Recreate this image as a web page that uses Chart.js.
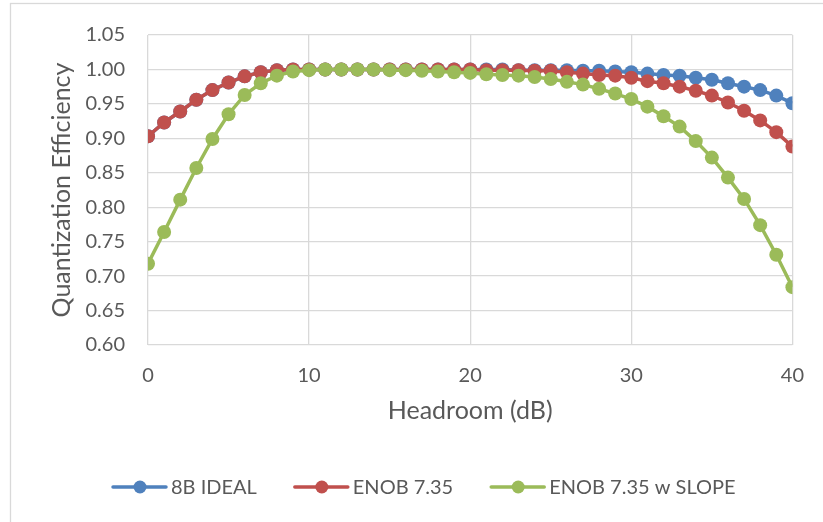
<!DOCTYPE html>
<html>
<head>
<meta charset="utf-8">
<script src="https://cdn.jsdelivr.net/npm/chart.js@4.4.1/dist/chart.umd.min.js"></script>
<style>
  html, body { margin: 0; padding: 0; background: #ffffff; }
  #wrap { position: relative; width: 823px; height: 522px; }
</style>
</head>
<body>
<div id="wrap"><canvas id="c" width="823" height="522"></canvas></div>
<script>
// ---- data ----
const headroom = [0,1,2,3,4,5,6,7,8,9,10,11,12,13,14,15,16,17,18,19,20,21,22,23,24,25,26,27,28,29,30,31,32,33,34,35,36,37,38,39,40];
const ideal8B = [0.903,0.923,0.939,0.956,0.970,0.981,0.990,0.996,0.999,1.000,1.000,1.000,1.000,1.000,1.000,1.000,1.000,1.000,1.000,1.000,1.000,1.000,1.000,0.999,0.999,0.999,0.999,0.998,0.998,0.997,0.996,0.994,0.992,0.991,0.988,0.985,0.980,0.975,0.970,0.962,0.951];
const enob735 = [0.903,0.923,0.939,0.956,0.970,0.981,0.990,0.996,0.999,1.000,1.000,1.000,1.000,1.000,1.000,1.000,1.000,1.000,1.000,1.000,1.000,0.999,0.999,0.999,0.998,0.998,0.996,0.994,0.992,0.991,0.988,0.983,0.980,0.975,0.969,0.962,0.952,0.940,0.926,0.909,0.888];
const enob735Slope = [0.718,0.764,0.811,0.857,0.899,0.935,0.963,0.980,0.991,0.997,0.999,1.000,1.000,1.000,1.000,0.999,0.999,0.998,0.997,0.996,0.995,0.993,0.992,0.991,0.989,0.986,0.982,0.978,0.972,0.965,0.957,0.946,0.932,0.917,0.896,0.872,0.843,0.812,0.774,0.731,0.684];
const seriesNames = ['8B IDEAL', 'ENOB 7.35', 'ENOB 7.35 w SLOPE'];
const yTickValues = [0.60,0.65,0.70,0.75,0.80,0.85,0.90,0.95,1.00,1.05];
const xTickValues = [0,10,20,30,40];
const xTitle = 'Headroom (dB)';
const yTitle = 'Quantization Efficiency';

// ---- styles ----
const colors = ['#4F81BD', '#C0504D', '#9BBB59'];
const textColor = '#595959';
const gridColor = '#d9d9d9';
const FONT = 'Lato, "Open Sans", sans-serif';

function toPoints(vals) { return vals.map((v, i) => ({ x: headroom[i], y: v })); }
const seriesVals = [ideal8B, enob735, enob735Slope];

const datasets = seriesVals.map((vals, i) => ({
  label: seriesNames[i],
  data: toPoints(vals),
  borderColor: colors[i],
  backgroundColor: colors[i],
  pointBackgroundColor: colors[i],
  pointBorderColor: colors[i],
  pointRadius: 7,
  pointHoverRadius: 7,
  pointBorderWidth: 0,
  borderWidth: 3.5,
  tension: 0,
  order: 3 - i
}));

const frameAndLegend = {
  id: 'frameAndLegend',
  beforeDraw(chart) {
    const ctx = chart.ctx;
    ctx.save();
    ctx.fillStyle = '#ffffff';
    ctx.fillRect(0, 0, chart.width, chart.height);
    ctx.strokeStyle = '#d9d9d9';
    ctx.lineWidth = 1.3;
    ctx.strokeRect(10.5, 3.5, 1000, 1000);
    ctx.restore();
  },
  afterDraw(chart) {
    const ctx = chart.ctx;
    ctx.save();
    ctx.font = '20px ' + FONT;
    ctx.textBaseline = 'middle';
    const y = 487;
    let x = 112;
    chart.data.datasets.forEach((ds, i) => {
      ctx.strokeStyle = ds.borderColor;
      ctx.lineWidth = 3.5;
      ctx.lineCap = 'round';
      ctx.beginPath();
      ctx.moveTo(x + 1, y);
      ctx.lineTo(x + 54, y);
      ctx.stroke();
      ctx.fillStyle = ds.borderColor;
      ctx.beginPath();
      ctx.arc(x + 28, y, 6.5, 0, Math.PI * 2);
      ctx.fill();
      ctx.fillStyle = textColor;
      ctx.textAlign = 'left';
      ctx.fillText(ds.label, x + 59, y + 1);
      x += 59 + ctx.measureText(ds.label).width + 37;
    });
    ctx.restore();
  }
};

new Chart(document.getElementById('c'), {
  type: 'line',
  data: { datasets },
  options: {
    responsive: false,
    animation: false,
    events: [],
    layout: { padding: { left: 0, top: 32, right: 28, bottom: 96 } },
    plugins: {
      legend: { display: false },
      tooltip: { enabled: false },
      title: { display: false }
    },
    scales: {
      x: {
        type: 'linear',
        min: 0, max: 40,
        afterBuildTicks(scale) { scale.ticks = xTickValues.map(v => ({ value: v })); },
        afterFit(scale) { scale.height = 81; },
        grid: { color: gridColor, lineWidth: 1.3, drawTicks: false },
        border: { display: false },
        ticks: { color: textColor, font: { family: FONT, size: 20 }, padding: 19, maxRotation: 0 },
        title: { display: true, text: xTitle, color: textColor, font: { family: FONT, size: 25 }, padding: { top: 0, bottom: 0 } }
      },
      y: {
        type: 'linear',
        min: 0.60, max: 1.05,
        afterBuildTicks(scale) { scale.ticks = yTickValues.map(v => ({ value: v })); },
        afterFit(scale) { scale.width = 148; },
        grid: { color: gridColor, lineWidth: 1.3, drawTicks: false },
        border: { display: false },
        ticks: { color: textColor, font: { family: FONT, size: 20 }, padding: 23, callback: v => Number(v).toFixed(2) },
        title: { display: true, text: yTitle, color: textColor, font: { family: FONT, size: 25 }, padding: { top: 47, bottom: 0 } }
      }
    }
  },
  plugins: [frameAndLegend]
});
</script>
</body>
</html>
